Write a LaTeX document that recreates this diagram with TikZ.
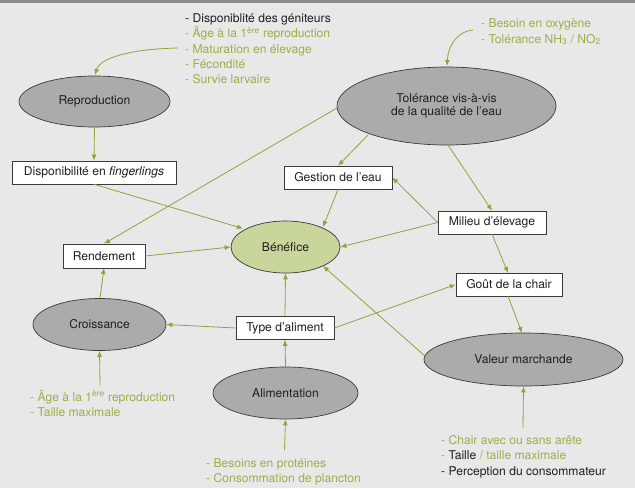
\documentclass[tikz,border=0pt]{standalone}
\usepackage{fontspec}
\setmainfont{TeX Gyre Heros}
\usetikzlibrary{arrows.meta,shapes.geometric}
\definecolor{bg}{HTML}{E8E8E8}
\definecolor{olive}{HTML}{8FA53A}
\definecolor{olivetxt}{HTML}{9AAF4A}
\definecolor{ellgray}{HTML}{ABABAB}
\definecolor{benef}{HTML}{C8D69C}
\definecolor{edge}{HTML}{3A3A3A}
\tikzset{
  every node/.style={font=\fontsize{12.1}{14.5}\selectfont, text=black!88},
  grayell/.style={ellipse, draw=edge, line width=0.7pt, fill=ellgray, inner sep=0pt},
  greenell/.style={ellipse, draw=edge, line width=0.7pt, fill=benef, inner sep=0pt},
  whitebox/.style={rectangle, draw=edge, line width=0.6pt, fill=white, inner sep=0pt, minimum height=23pt},
  conn/.style={draw=olive, line width=0.8pt, -{Latex[length=6pt,width=5pt]}},
  listline/.style={anchor=base west, inner sep=0pt, text=olivetxt},
  blackline/.style={anchor=base west, inner sep=0pt, text=black!88},
}
\begin{document}
\begin{tikzpicture}[x=1pt,y=-1pt]
\useasboundingbox (0,0) rectangle (635,488);
\fill[bg] (0,0) rectangle (635,488);
\fill[black!45] (0,0) rectangle (635,2.5);

% main nodes
\node[grayell, minimum width=151pt, minimum height=51pt] (repro) at (94.5,101.5) {Reproduction};
\node[whitebox, minimum width=164pt] (finger) at (94,172.5) {Disponibilité en \textit{fingerlings}};
\node[grayell, minimum width=219pt, minimum height=78pt, align=center] (toler) at (446.5,106) {Tolérance vis-à-vis\\[-1pt]de la qualité de l'eau};
\node[whitebox, minimum width=108pt] (gestion) at (338,177.5) {Gestion de l'eau};
\node[whitebox, minimum width=108pt] (milieu) at (492,222.5) {Milieu d’élevage};
\node[whitebox, minimum width=106pt] (gout) at (509,284.5) {Goût de la chair};
\node[greenell, minimum width=109pt, minimum height=52pt] (benefice) at (285.5,247) {Bénéfice};
\node[whitebox, minimum width=82pt, minimum height=24pt] (rend) at (104,256) {Rendement};
\node[grayell, minimum width=133pt, minimum height=52pt] (croiss) at (99.5,324.5) {Croissance};
\node[whitebox, minimum width=98pt] (type) at (285,328) {Type d’aliment};
\node[grayell, minimum width=145pt, minimum height=52pt] (alim) at (285.5,393) {Alimentation};
\node[grayell, minimum width=199pt, minimum height=53pt] (valeur) at (523.5,359.5) {Valeur marchande};

% lists
\node[blackline] (l1a) at (185,22.5) {- Disponiblité des géniteurs};
\node[listline] (l1b) at (185,37.8) {- Âge à la 1\textsuperscript{ère} reproduction};
\node[listline] (l1c) at (185,53.1) {- Maturation en élevage};
\node[listline] (l1d) at (185,68.4) {- Fécondité};
\node[listline] (l1e) at (185,83.7) {- Survie larvaire};

\node[listline] (l2a) at (481,27) {- Besoin en oxygène};
\node[listline] (l2b) at (481,43) {- Tolérance NH\textsubscript{3} / NO\textsubscript{2}};

\node[listline] (l3a) at (30,401) {- Âge à la 1\textsuperscript{ère} reproduction};
\node[listline] (l3b) at (30,416.3) {- Taille maximale};

\node[listline] (l4a) at (206,467) {- Besoins en protéines};
\node[listline] (l4b) at (206,482.3) {- Consommation de plancton};

\node[listline] (l5a) at (441,444) {- Chair avec ou sans arête};
\node[listline] (l5b) at (441,459.5) {- \textcolor{black!88}{Taille} / taille maximale};
\node[blackline] (l5c) at (441,475) {- Perception du consommateur};

% coordinates for free ends
\coordinate (s1) at (178,48);
\coordinate (s2) at (473,30);
\coordinate (s3) at (100,385);
\coordinate (s4) at (284.5,450);
\coordinate (s5) at (523,428);

% list arrows
\draw[conn] (s1) .. controls (130,49) and (100,58) .. (95,75);
\draw[conn] (s2) .. controls (455,32) and (448,48) .. (447,66);
\draw[conn] (s3) -- (croiss.south);
\draw[conn] (s4) -- (alim.south);
\draw[conn] (s5) -- (valeur.south);

% connectors
\draw[conn] (repro.south) -- (finger.north);
\draw[conn] (finger.south) -- (243,228.5);
\draw[conn] (337,108) -- (rend.north);
\draw[conn] (368,135) -- (gestion.north);
\draw[conn] (448,145) -- (milieu.north);
\draw[conn] (gestion.south) -- (323,227);
\draw[conn] (milieu.west) -- (gestion.east);
\draw[conn] (milieu.west) -- (benefice.east);
\draw[conn] (492,234) -- (508,273);
\draw[conn] (508,296) -- (522,333);
\draw[conn] (425,356) -- (323,266);
\draw[conn] (rend.east) -- (benefice.west);
\draw[conn] (100,298.5) -- (104,268);
\draw[conn] (type.west) -- (croiss.east);
\draw[conn] (type.north) -- (benefice.south);
\draw[conn] (type.east) -- (gout.west);
\draw[conn] (alim.north) -- (type.south);
\end{tikzpicture}
\end{document}
